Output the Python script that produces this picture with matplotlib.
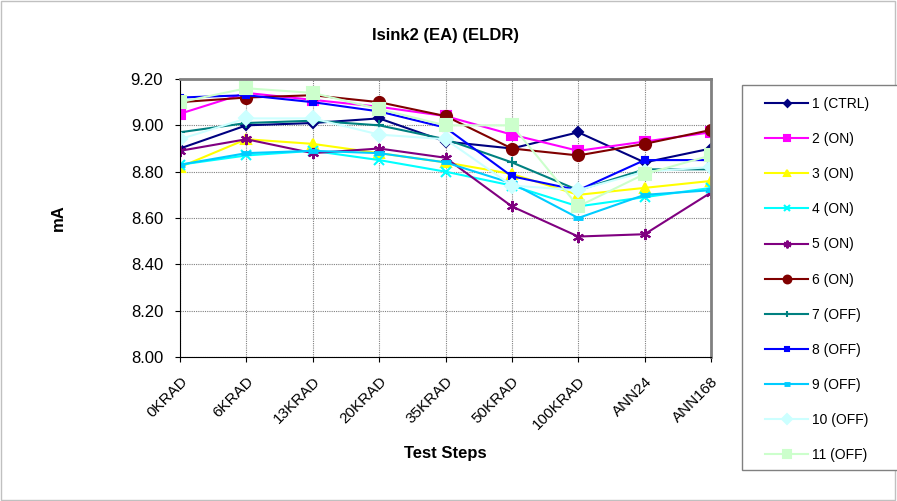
import matplotlib
matplotlib.use("Agg")
import matplotlib.pyplot as plt
from matplotlib.patches import Rectangle

plt.rcParams['font.family'] = ['Liberation Sans', 'DejaVu Sans']

steps = ["0KRAD", "6KRAD", "13KRAD", "20KRAD", "35KRAD", "50KRAD", "100KRAD", "ANN24", "ANN168"]
labels = ["1 (CTRL)", "2 (ON)", "3 (ON)", "4 (ON)", "5 (ON)", "6 (ON)",
          "7 (OFF)", "8 (OFF)", "9 (OFF)", "10 (OFF)", "11 (OFF)"]

s1 = [8.90, 9.00, 9.01, 9.03, 8.93, 8.90, 8.97, 8.84, 8.90]
s2 = [9.05, 9.14, 9.11, 9.08, 9.04, 8.96, 8.89, 8.93, 8.97]
s3 = [8.82, 8.94, 8.92, 8.88, 8.84, 8.79, 8.70, 8.73, 8.76]
s4 = [8.83, 8.87, 8.89, 8.85, 8.80, 8.74, 8.65, 8.69, 8.73]
s5 = [8.89, 8.94, 8.88, 8.90, 8.86, 8.65, 8.52, 8.53, 8.71]
s6 = [9.10, 9.12, 9.13, 9.10, 9.04, 8.90, 8.87, 8.92, 8.98]
s7 = [8.97, 9.01, 9.02, 9.00, 8.94, 8.84, 8.72, 8.81, 8.81]
s8 = [9.12, 9.13, 9.10, 9.06, 8.99, 8.78, 8.72, 8.85, 8.85]
s9 = [8.83, 8.88, 8.89, 8.88, 8.84, 8.75, 8.60, 8.70, 8.72]
s10 = [8.94, 9.03, 9.03, 8.96, 8.94, 8.74, 8.72, 8.80, 8.82]
s11 = [9.10, 9.16, 9.14, 9.07, 9.00, 9.00, 8.65, 8.79, 8.87]

series = [s1, s2, s3, s4, s5, s6, s7, s8, s9, s10, s11]
colors = ["#000080", "#FF00FF", "#FFFF00", "#00FFFF", "#800080", "#800000",
          "#008080", "#0000FF", "#00CCFF", "#CCFFFF", "#CCFFCC"]
markers = ["D", "s", "^", "x", (6, 2, 0), "o", "+", "s", "_", "D", "s"]
msizes = [5, 7, 7, 7, 8, 8, 7, 4, 7, 7, 8]

fig = plt.figure(figsize=(8.97, 5.01), dpi=100)
fig.patches.append(Rectangle((0.001, 0.002), 0.997, 0.996, transform=fig.transFigure,
                             fill=False, edgecolor="#C0C0C0", linewidth=1))
ax = fig.add_axes([180/897, 1-357/501, 531/897, 278/501])

x = list(range(len(steps)))
for vals, c, m, ms, lab in zip(series, colors, markers, msizes, labels):
    mew = 1.5
    if m == "_":
        mew = 3.5
    ax.plot(x, vals, color=c, marker=m, markersize=ms, linewidth=1.5,
            markeredgewidth=mew, markerfacecolor=c, markeredgecolor=c, label=lab)

yt = [8.0, 8.2, 8.4, 8.6, 8.8, 9.0, 9.2]
ax.set_xlim(0, 8)
ax.set_ylim(8.0, 9.2)
ax.set_yticks(yt)
ax.set_yticklabels([f"{v:.2f}" for v in yt], fontsize=12)
ax.set_xticks(x)
ax.set_xticklabels(steps, rotation=45, ha="right", rotation_mode="anchor", fontsize=11)
ax.grid(True, color="#808080", linestyle=(0, (1, 1)), linewidth=0.8)
ax.set_axisbelow(True)
ax.tick_params(axis="y", direction="out", length=3.6, pad=8.5, color="black")
ax.tick_params(axis="x", direction="out", length=3.6, pad=9, color="black")
for side in ["top", "right"]:
    ax.spines[side].set_color("#808080")
    ax.spines[side].set_linewidth(2)
ax.spines["left"].set_color("black")
ax.spines["bottom"].set_color("black")

ax.set_title("Isink2 (EA) (ELDR)", fontsize=12, fontweight="bold", pad=28)
ax.set_ylabel("mA", fontsize=12, fontweight="bold", labelpad=47)
ax.set_xlabel("Test Steps", fontsize=12, fontweight="bold", labelpad=10)

# legend frame
fig.patches.append(Rectangle((742/897, 1-470/501), 160/897, 385/501, transform=fig.transFigure,
                             fill=True, facecolor="white", edgecolor="#808080", linewidth=1))
leg = fig.legend(loc="upper left", bbox_to_anchor=(765/897, 1-97/501), fontsize=10,
                 frameon=False, labelspacing=1.52, handlelength=3.1, handletextpad=0.3,
                 borderpad=0, borderaxespad=0, markerscale=0.7)

fig.savefig("out.png", dpi=100)
